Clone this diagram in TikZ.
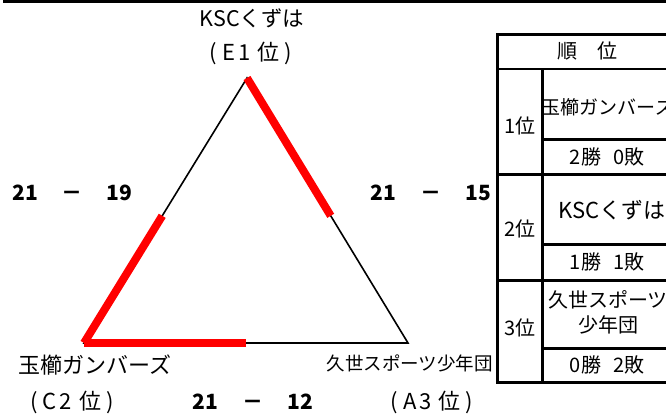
\documentclass[tikz,border=0pt]{standalone}
\usepackage{fontspec}
\setmainfont{Noto Sans CJK JP}
\usetikzlibrary{calc}

\newcommand{\rankparen}[2]{(\hspace{5pt}#1\hspace{3pt}#2\hspace{7pt}位\hspace{5pt})}

\tikzset{
  win/.style={red, line width=8pt},
  side/.style={black, line width=1.6pt},
  rule/.style={line width=3pt},
  score/.style={font=\bfseries\fontsize{21}{25}\selectfont, inner sep=0pt},
  lbl/.style={font=\fontsize{20}{25}\selectfont, inner sep=0pt},
  rk/.style={font=\fontsize{22}{26}\selectfont, inner sep=0pt},
}

\begin{document}
\begin{tikzpicture}[x=1pt,y=-1pt]
    \useasboundingbox (0,0) rectangle (666,414);
    \clip (0,0) rectangle (666,414);
    \fill (3,0) rectangle (666,3);

    \coordinate (kuzuha) at (247,78);
    \coordinate (tama) at (84,343);
    \coordinate (kuze) at (408,343);
    \draw[side] (kuzuha) -- (tama) -- (kuze) -- cycle;
    \draw[win] (kuzuha) -- ($(kuzuha)!0.52!(kuze)$);
    \draw[win] (tama) -- ($(tama)!0.48!(kuzuha)$);
    \draw[win] (tama) -- ($(tama)!0.5!(kuze)$);

    \node[lbl, font=\fontsize{21.5}{25}\selectfont] (kuzuhaname) at (252,18) {KSCくずは};
    \node[rk] (kuzuharank) at (251,53) {\rankparen{E}{1}};
    \node[lbl, font=\fontsize{22}{26}\selectfont] (tamaname) at (95,365) {玉櫛ガンバーズ};
    \node[rk] (tamarank) at (72,402) {\rankparen{C}{2}};
    \node[lbl, font=\fontsize{18.5}{22}\selectfont, anchor=east] (kuzename) at (493,363) {久世スポーツ少年団};
    \node[rk] (kuzerank) at (432,402) {\rankparen{A}{3}};

    \node[score] (scoreleft) at (72.5,193) {21\hspace{24pt}－\hspace{24pt}19};
    \node[score] (scoreright) at (431,193) {21\hspace{24pt}－\hspace{24pt}15};
    \node[score] (scorebottom) at (253,402) {21\hspace{24pt}－\hspace{24pt}12};

    % standings table
    \draw[rule] (497,35) rectangle (674,382);
    \draw[line width=2pt] (497,69) -- (674,69);
    \draw[rule] (542,69) -- (542,382);
    \draw[rule] (497,175) -- (674,175);
    \draw[rule] (497,280) -- (674,280);
    \draw[rule] (542,140) -- (674,140);
    \draw[rule] (542,244) -- (674,244);
    \draw[rule] (542,348) -- (674,348);

    \node[lbl] (head) at (587,51) {順　位};
    \node[lbl] (rank1) at (520,126) {1位};
    \node[lbl, font=\fontsize{19}{25}\selectfont] (team1) at (608,107) {玉櫛ガンバーズ};
    \node[lbl] (rec1) at (607,157) {2勝\hspace{12pt}0敗};
    \node[lbl] (rank2) at (520,229) {2位};
    \node[lbl, font=\fontsize{22}{25}\selectfont] (team2) at (612,210) {KSCくずは};
    \node[lbl] (rec2) at (607,262) {1勝\hspace{12pt}1敗};
    \node[lbl] (rank3) at (520,328) {3位};
    \node[lbl, align=center] (team3) at (608,312) {久世スポーツ\\少年団};
    \node[lbl] (rec3) at (607,365) {0勝\hspace{12pt}2敗};
\end{tikzpicture}
\end{document}
